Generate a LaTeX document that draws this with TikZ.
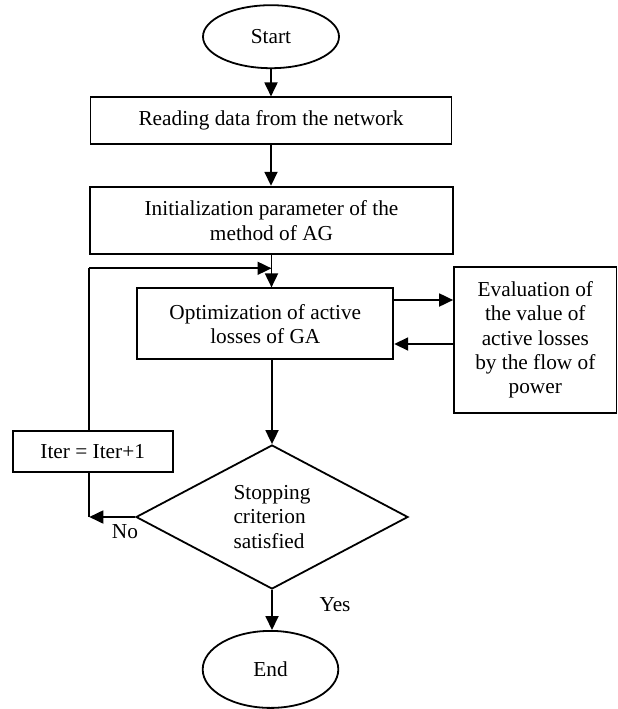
\documentclass[tikz,border=0pt]{standalone}
\usepackage{fontspec}
\setmainfont{Liberation Serif}
\usetikzlibrary{shapes.geometric,arrows.meta,calc}
\begin{document}
\begin{tikzpicture}[x=1pt,y=-1pt, line width=1.8pt,
  every node/.style={font=\fontsize{21.3}{24.3}\selectfont, inner sep=0pt},
  box/.style={draw, rectangle, align=center},
  term/.style={draw, ellipse},
  dec/.style={draw, diamond, align=left},
  conn/.style={-{Triangle[length=14pt,width=13pt]}},
  plain/.style={}]
\useasboundingbox (0,0) rectangle (618,709);
\node[term, minimum width=136pt, minimum height=63pt] (start) at (271,36.7) {Start};
\node[box, minimum width=361pt, minimum height=46.7pt] (read) at (271,120.7) {Reading data from the network};
\node[box, minimum width=362.7pt, minimum height=67.6pt] (init) at (271.5,220.5) {Initialization parameter of the\\method of AG};
\node[box, minimum width=256pt, minimum height=71pt] (opt) at (265.3,323.8) {Optimization of active\\losses of GA};
\node[box, minimum width=162.5pt, minimum height=145.4pt] (eval) at (535.3,340) {Evaluation of\\the value of\\active losses\\by the flow of\\power};
\node[box, minimum width=160pt, minimum height=40.5pt] (iter) at (92.7,451.5) {Iter = Iter+1};
\node[dec, minimum width=272pt, minimum height=144pt] (dia) at (272,517) {Stopping\\criterion\\satisfied};
\node[term, minimum width=135.6pt, minimum height=77pt] (end) at (270.5,669.4) {End};
\node[anchor=base] (no) at (125,538) {No};
\node[anchor=base] (yes) at (335,611.7) {Yes};
\coordinate (fb) at (89.3,268.3);
\draw[conn] (start.south) -- (start.south |- read.north);
\draw[conn] (read.south) -- (read.south |- init.north);
\draw[conn] (init.south) -- (init.south |- opt.north);
\draw[conn] (dia.north |- opt.south) -- (dia.north);
\draw[conn] (dia.south) -- (dia.south |- end.north);
\draw[conn] ($(opt.east)+(0,-23.8)$) -- ($(opt.east -| eval.west)+(0,-23.8)$);
\draw[conn] ($(eval.west |- opt.east)+(0,20.2)$) -- ($(opt.east)+(0,20.2)$);
\draw[plain] (iter.north -| fb) -- (fb);
\draw[conn] (fb) -- (fb -| init.south);
\draw[plain] (iter.south -| fb) -- (fb |- dia.west);
\draw[conn] (dia.west) -- (fb |- dia.west);
\end{tikzpicture}
\end{document}
